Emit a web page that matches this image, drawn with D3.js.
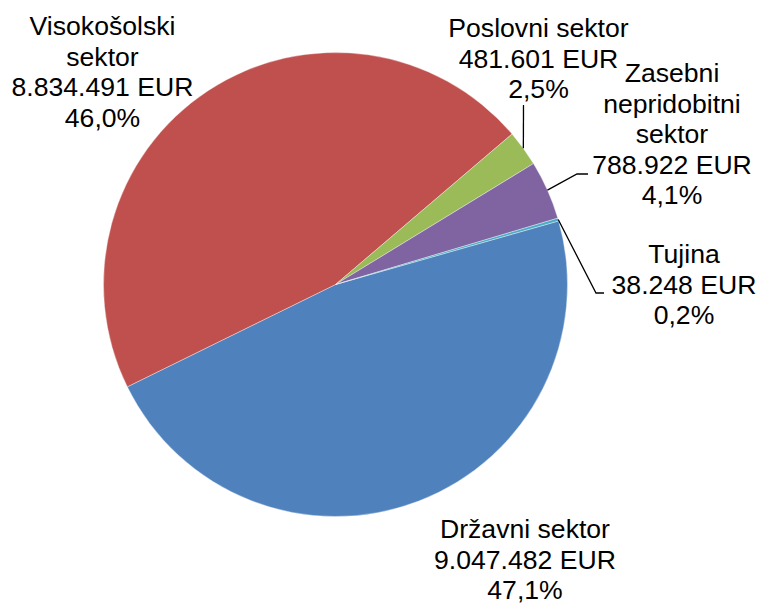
<!DOCTYPE html>
<html>
<head>
<meta charset="utf-8">
<script src="https://cdn.jsdelivr.net/npm/d3@7"></script>
<style>
  html, body { margin: 0; padding: 0; background: #fff; }
  svg { display: block; }
  text { font-family: "Liberation Sans", Arial, sans-serif; font-size: 26.6px; fill: #000; }
</style>
</head>
<body>
<svg id="chart" width="761" height="604"></svg>
<script>
// ---- data ----
const categories = ["Državni sektor", "Visokošolski sektor", "Poslovni sektor", "Zasebni nepridobitni sektor", "Tujina"];
const values = [9047482, 8834491, 481601, 788922, 38248];
const labelLines = [
  ["Državni sektor"],
  ["Visokošolski", "sektor"],
  ["Poslovni sektor"],
  ["Zasebni", "nepridobitni", "sektor"],
  ["Tujina"]
];
const colors = ["#4F81BD", "#C0504D", "#9BBB59", "#8064A2", "#4BACC6"];

// ---- layout ----
const svg = d3.select("#chart");
const cx = 335.5, cy = 284.5, R = 232;
const startDeg = 74.1;
const start = startDeg * Math.PI / 180;

const total = d3.sum(values);
const fmtNum = v => d3.format(",")(v).replace(/,/g, ".");
const fmtPct = v => (v * 100).toFixed(1).replace(".", ",") + "%";

const pie = d3.pie().sort(null).startAngle(start).endAngle(start + 2 * Math.PI);
const arcs = pie(values);
const arc = d3.arc().innerRadius(0).outerRadius(R);

const g = svg.append("g").attr("transform", `translate(${cx},${cy})`);
g.selectAll("path").data(arcs).join("path")
  .attr("d", arc)
  .attr("fill", (d, i) => colors[i])
  .attr("stroke", "#ffffff")
  .attr("stroke-opacity", 0.6)
  .attr("stroke-width", 0.6);

// label placements (layout only)
const labelPos = [
  { x: 525, y: 538 },
  { x: 102.5, y: 35 },
  { x: 538.5, y: 37 },
  { x: 672, y: 82 },
  { x: 684, y: 263 }
];
const lineH = 30.6;

// leader lines: [index, bend points (absolute)]
const leaders = [
  { i: 2, pts: [[523.5, 105]] },
  { i: 3, pts: [[577, 174], [588, 174]] },
  { i: 4, pts: [[596, 293], [604, 293]] }
];
leaders.forEach(l => {
  const a = arcs[l.i];
  const mid = (a.startAngle + a.endAngle) / 2;
  const p0 = [cx + R * Math.sin(mid), cy - R * Math.cos(mid)];
  svg.append("path")
    .attr("d", d3.line()([p0, ...l.pts]))
    .attr("fill", "none")
    .attr("stroke", "#000")
    .attr("stroke-width", 1.3);
});

arcs.forEach((a, i) => {
  const lines = [...labelLines[i], fmtNum(values[i]) + " EUR", fmtPct(values[i] / total)];
  const t = svg.append("text")
    .attr("text-anchor", "middle")
    .attr("x", labelPos[i].x)
    .attr("y", labelPos[i].y);
  lines.forEach((s, k) => {
    t.append("tspan")
      .attr("x", labelPos[i].x)
      .attr("y", labelPos[i].y + k * lineH)
      .text(s);
  });
});
</script>
</body>
</html>
